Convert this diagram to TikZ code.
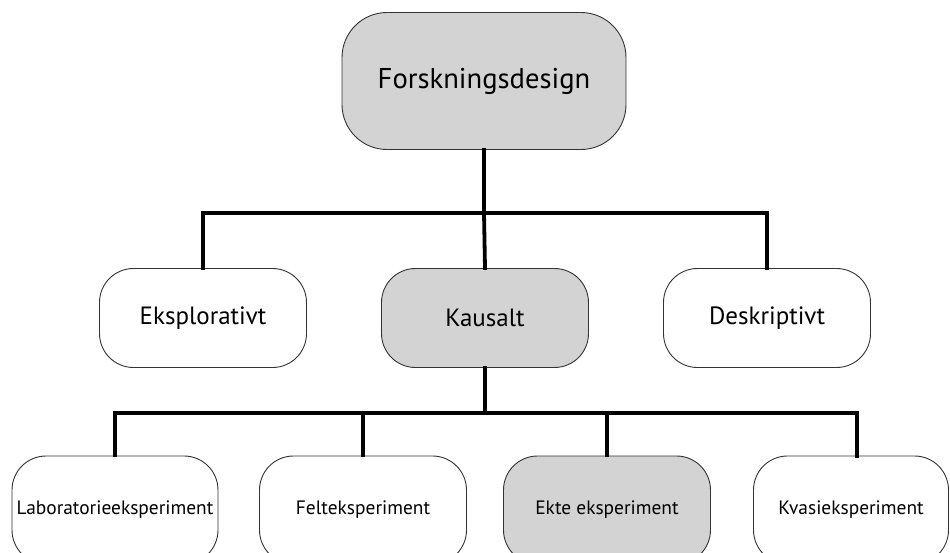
\documentclass[tikz,border=0pt]{standalone}
\usepackage{fontspec}
\setmainfont{PT Sans}
\definecolor{boxgray}{HTML}{D3D3D3}
\definecolor{edgegray}{HTML}{333333}
\tikzset{
  box/.style={draw=edgegray, line width=0.9pt, fill=white, align=center, inner sep=0pt},
  topbox/.style={box, fill=boxgray, minimum width=284pt, minimum height=137pt, rounded corners=45pt, font=\fontsize{28.6}{32}\selectfont},
  midbox/.style={box, minimum width=207pt, minimum height=99pt, rounded corners=34pt, font=\fontsize{25}{28}\selectfont},
  lowbox/.style={box, minimum height=108pt, rounded corners=34pt, font=\fontsize{19.4}{22}\selectfont},
  shaded/.style={fill=boxgray},
  conn/.style={line width=3.8pt, line cap=rect, line join=miter}
}
\begin{document}
\begin{tikzpicture}[x=1pt,y=-1pt]
\useasboundingbox (0,0) rectangle (950,552);
\begin{scope}
\clip (0,0) rectangle (950,552);
\node[topbox] (top) at (484,81) {Forskningsdesign};
\node[midbox] (exp) at (203,318) {Eksplorativt};
\node[midbox, shaded] (kau) at (485,318) {Kausalt};
\node[midbox] (desk) at (767,318) {Deskriptivt};
\node[lowbox, minimum width=206pt] (lab) at (115,510) {Laboratorieeksperiment};
\node[lowbox, minimum width=207pt] (felt) at (363,510) {Felteksperiment};
\node[lowbox, minimum width=207pt, shaded] (ekte) at (607,510) {Ekte eksperiment};
\node[lowbox, minimum width=195pt] (kvas) at (851,510) {Kvasieksperiment};
\coordinate (h1) at (484,213);
\coordinate (h2) at (485,413);
\draw[conn] (top.south) -- (h1);
\draw[conn] (exp.north) -- (exp.north |- h1) -- (desk.north |- h1) -- (desk.north);
\draw[conn] (h1) -- (kau.north);
\draw[conn] (kau.south) -- (h2);
\draw[conn] (lab.north) -- (lab.north |- h2) -- (857,413) -- (857,456);
\draw[conn] (felt.north) -- (felt.north |- h2);
\draw[conn] (ekte.north) -- (ekte.north |- h2);
\end{scope}
\end{tikzpicture}
\end{document}
